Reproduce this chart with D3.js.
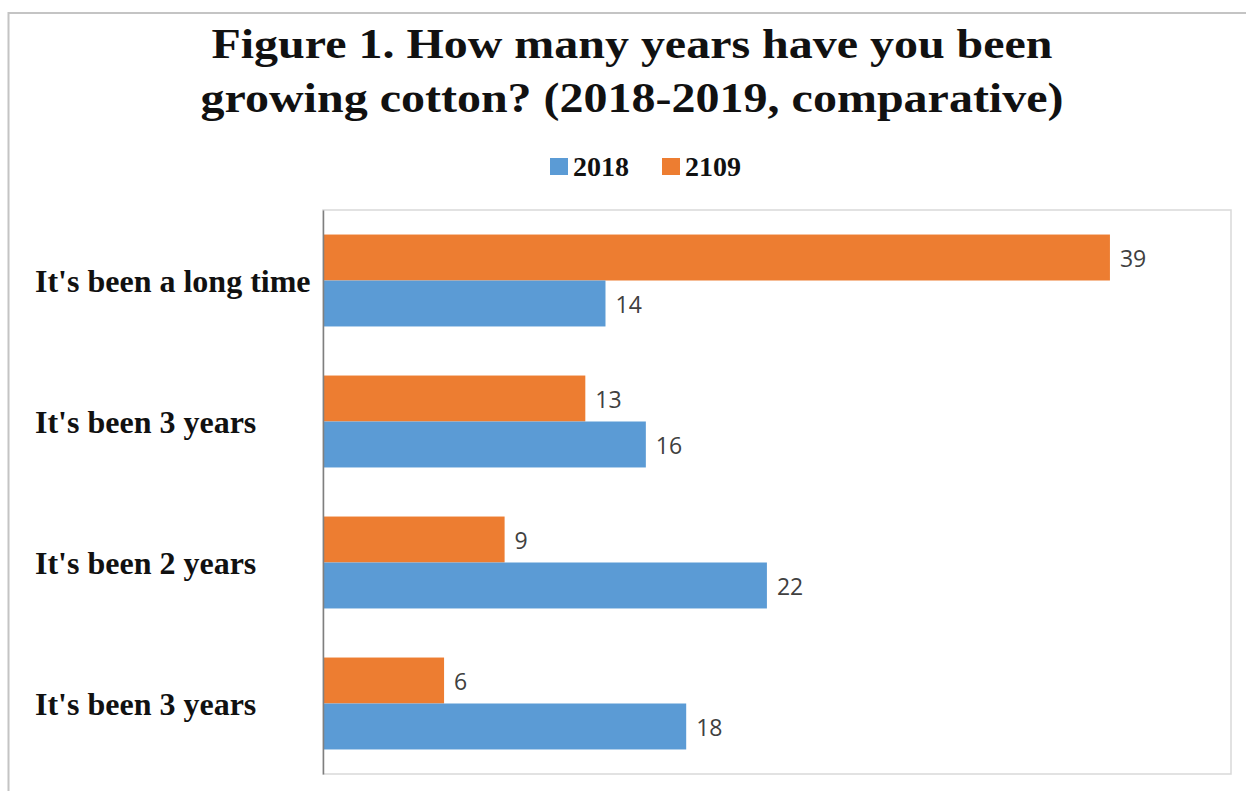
<!DOCTYPE html>
<html>
<head>
<meta charset="utf-8">
<script src="https://cdn.jsdelivr.net/npm/d3@7"></script>
<style>
  html, body { margin: 0; padding: 0; background: #fff; }
  svg { display: block; }
</style>
</head>
<body>
<svg id="chart" width="1246" height="791"></svg>
<script>
// Survey answers, listed top to bottom as they appear on the chart
const categories = ["It's been a long time", "It's been 3 years", "It's been 2 years", "It's been 3 years"];
const seriesNames = ["2109", "2018"];          // order within each group, top to bottom
const values2018 = [14, 16, 22, 18];
const values2109 = [39, 13, 9, 6];
const legendOrder = ["2018", "2109"];
const titleLines = ["Figure 1. How many years have you been", "growing cotton? (2018-2019, comparative)"];

const colors = { "2018": "#5B9BD5", "2109": "#ED7D31" };
const seriesValues = { "2018": values2018, "2109": values2109 };

const svg = d3.select("#chart");
const W = 1246, H = 791;
const plot = { left: 323, right: 1231, top: 210, bottom: 774 };
const serif = "'Liberation Serif', 'Times New Roman', serif";
const sans = "'Open Sans', 'Liberation Sans', sans-serif";

// Outer frame of the chart (runs off the right and bottom edges)
svg.append("rect")
  .attr("x", 8.5).attr("y", 13)
  .attr("width", W + 20).attr("height", H + 20)
  .attr("fill", "none").attr("stroke", "#c4c4c4").attr("stroke-width", 2);

// Title, two centred lines
const titleSpec = [{ y: 58, len: 841 }, { y: 112, len: 863 }];
svg.append("g").selectAll("text").data(titleLines).join("text")
  .attr("x", 632)
  .attr("y", (d, i) => titleSpec[i].y)
  .attr("text-anchor", "middle")
  .attr("font-family", serif)
  .attr("font-weight", "bold")
  .attr("font-size", 43)
  .attr("fill", "#111")
  .attr("textLength", (d, i) => titleSpec[i].len)
  .attr("lengthAdjust", "spacingAndGlyphs")
  .text(d => d);

// Scales: one band per answer row (indexed, since two rows share a label)
const rows = categories.map((c, i) => i);
const y = d3.scaleBand()
  .domain(rows)
  .range([plot.top, plot.bottom])
  .paddingInner(0.348)
  .paddingOuter(0.174);
const ySub = d3.scaleBand()
  .domain(seriesNames)
  .range([0, y.bandwidth()]);
const x = d3.scaleLinear()
  .domain([0, 45])
  .range([plot.left, plot.right]);

// Plot area frame
svg.append("rect")
  .attr("x", plot.left).attr("y", plot.top)
  .attr("width", plot.right - plot.left).attr("height", plot.bottom - plot.top)
  .attr("fill", "none").attr("stroke", "#d9d9d9").attr("stroke-width", 1.5);

// Bars
const groups = svg.append("g").selectAll("g").data(rows).join("g")
  .attr("transform", i => `translate(0,${y(i)})`);

groups.selectAll("rect")
  .data(i => seriesNames.map(s => ({ s, v: seriesValues[s][i] })))
  .join("rect")
  .attr("x", x(0))
  .attr("y", d => ySub(d.s))
  .attr("width", d => x(d.v) - x(0))
  .attr("height", ySub.bandwidth())
  .attr("fill", d => colors[d.s]);

// Value labels
groups.selectAll("text.val")
  .data(i => seriesNames.map(s => ({ s, v: seriesValues[s][i] })))
  .join("text")
  .attr("class", "val")
  .attr("x", d => x(d.v) + 10)
  .attr("y", d => ySub(d.s) + ySub.bandwidth() / 2 + 1)
  .attr("dy", "0.36em")
  .attr("font-family", sans)
  .attr("font-size", 23)
  .attr("fill", "#404040")
  .text(d => d.v);

// Category axis
const yAxis = d3.axisLeft(y).tickSize(0).tickFormat(i => categories[i]);
const axisG = svg.append("g")
  .attr("transform", `translate(${plot.left},0)`)
  .call(yAxis);
axisG.select(".domain").attr("stroke", "#7f7f7f").attr("stroke-width", 1.5);
axisG.selectAll(".tick text")
  .attr("x", 35 - plot.left)
  .attr("dy", "0.35em")
  .attr("text-anchor", "start")
  .attr("font-family", serif)
  .attr("font-weight", "bold")
  .attr("font-size", 32)
  .attr("fill", "#111");

// Legend
const legend = svg.append("g");
const legendX = { "2018": 550, "2109": 662 };
legendOrder.forEach(k => {
  legend.append("rect")
    .attr("x", legendX[k]).attr("y", 158)
    .attr("width", 18).attr("height", 17)
    .attr("fill", colors[k]);
  legend.append("text")
    .attr("x", legendX[k] + 23).attr("y", 176)
    .attr("font-family", serif)
    .attr("font-weight", "bold")
    .attr("font-size", 28)
    .attr("fill", "#111")
    .text(k);
});
</script>
</body>
</html>
